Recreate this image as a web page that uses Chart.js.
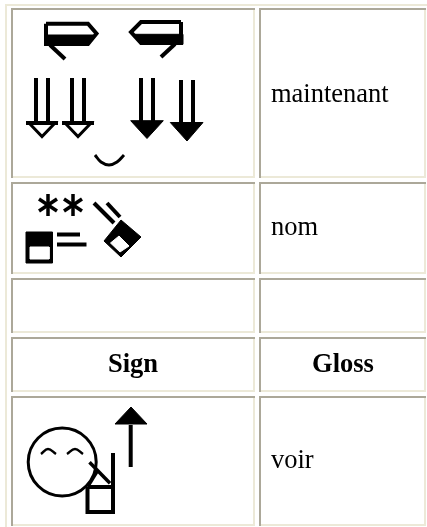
<!DOCTYPE html>
<html>
<head>
<meta charset="utf-8">
<title>Sign / Gloss</title>
<style>
  html, body { margin: 0; padding: 0; background: #fff; overflow: hidden; }
  canvas { display: block; }
</style>
<script src="https://cdn.jsdelivr.net/npm/chart.js@4"></script>
</head>
<body>
<canvas id="myChart" width="427" height="527"></canvas>
<script>
// table grid
const rowTops = [9, 183, 279, 338, 397];
const rowBottoms = [177, 273, 332, 391, 525];
const colLefts = [12, 260];
const colRights = [254, 425];
const frameTop = [[6, 5], [427, 5]];
const frameLeft = [[6, 4], [6, 527]];

// text
const labels = ['maintenant', 'nom', 'Sign', 'Gloss', 'voir'];
const labelX = [271, 271, 133, 343, 271];
const labelY = [102, 235, 372, 372, 468];
const labelBold = [false, false, true, true, false];

// row 1: flags
const flagLeft = [[46, 23.7], [88, 23.7], [96.5, 33.5], [88, 44], [46, 44], [46, 23.7]];
const flagLeftBlack = [[45, 35], [93, 35], [88, 45], [45, 45]];
const flagLeftTail = [[50, 45], [65, 59]];
const flagRight = [[181, 22], [141, 22], [131, 32], [141, 43], [181, 43], [181, 22]];
const flagRightBlack = [[183, 34.3], [135, 34.3], [141, 44.3], [183, 44.3]];
const flagRightTail = [[175, 44], [161, 57]];

// row 1: arrows
const arrowShafts = [
  [[36, 78], [36, 122]], [[48, 78], [48, 122]],
  [[72, 78], [72, 122]], [[84, 78], [84, 122]],
  [[141, 78], [141, 122]], [[153, 78], [153, 122]],
  [[181, 80], [181, 124]], [[193, 80], [193, 124]]
];
const hollowBars = [[[26, 123], [58, 123]], [[62, 123], [94, 123]]];
const hollowHeads = [
  [[29, 123], [55, 123], [42, 136.5], [29, 123]],
  [[65, 123], [91, 123], [78, 136.5], [65, 123]]
];
const solidHeads = [
  [[130.7, 120.7], [163.3, 120.7], [147, 138.5]],
  [[170.3, 122.5], [203, 122.5], [187, 141]]
];
const smile = [[95, 155], [101, 162], [109, 165], [117, 162], [124, 155]];

// row 2
const stars = [
  [[48, 194], [48, 216]], [[39, 199], [57, 211]], [[57, 199], [39, 211]],
  [[73, 194], [73, 216]], [[64, 199], [82, 211]], [[82, 199], [64, 211]]
];
const squareOuter = [[26, 232], [52.5, 232], [52.5, 263], [26, 263]];
const squareWindow = [[30, 247], [49, 247], [49, 259], [30, 259]];
const bars = [[[57, 234.5], [80, 234.5]], [[57, 244.5], [86.5, 244.5]]];
const slashes = [[[94, 203], [114, 223]], [[107, 203], [120, 217]]];
const diamondOuter = [[121, 220], [141, 237], [121, 257], [104, 241]];
const diamondWindow = [[119, 236], [129, 246], [120, 252], [110.5, 243]];

// row 5
const faceCenter = [[62.2, 462]];
const eyes = [[[41, 454], [48, 449], [56, 454]], [[67, 454], [75, 449], [83, 454]]];
const upShaft = [[130.7, 425], [130.7, 467]];
const upHead = [[115, 424], [147, 424], [131, 407]];
const handSquare = [[87.5, 487], [113, 487], [113, 512], [87.5, 512], [87.5, 487]];
const handWrist = [[113, 453], [113, 514]];
const handThumb = [[89.5, 462.3], [110, 483.3]];
const handThumbBack = [[89, 485], [97.7, 471]];

const GRID_DARK = '#aca899';
const GRID_LIGHT = '#ece9d8';
const datasets = [];

function stroke(points, width, color, extra) {
  datasets.push(Object.assign({
    data: points.map(p => ({ x: p[0], y: p[1] })),
    borderColor: color || '#000',
    borderWidth: width,
    pointRadius: 0,
    fill: false
  }, extra || {}));
}
function shape(points, color) {
  stroke(points.concat([points[0]]), 1, color, { fill: 'shape', backgroundColor: color });
}

// first dataset ends up on top, so whites go in before the blacks under them
stroke(faceCenter, 0, '#000', { pointRadius: 34, pointBorderWidth: 3, pointBorderColor: '#000', pointBackgroundColor: 'rgba(0,0,0,0)', showLine: false });

shape(squareWindow, '#fff');
shape(diamondWindow, '#fff');
shape(squareOuter, '#000');
shape(diamondOuter, '#000');
stars.forEach(s => stroke(s, 3.5));
bars.forEach(s => stroke(s, 4));
slashes.forEach(s => stroke(s, 4));

shape(flagLeftBlack, '#000');
shape(flagRightBlack, '#000');
stroke(flagLeft, 4);
stroke(flagRight, 4);
stroke(flagLeftTail, 4);
stroke(flagRightTail, 4);

arrowShafts.forEach(s => stroke(s, 4));
hollowBars.forEach(s => stroke(s, 4));
hollowHeads.forEach(s => stroke(s, 3));
solidHeads.forEach(s => shape(s, '#000'));
stroke(smile, 3, '#000', { tension: 0.4 });

eyes.forEach(s => stroke(s, 2.5, '#000', { tension: 0.4 }));
stroke(upShaft, 4);
shape(upHead, '#000');
stroke(handSquare, 4);
stroke(handWrist, 4);
stroke(handThumb, 3.5);
stroke(handThumbBack, 3);

// cell borders: dark top/left, light bottom/right
rowTops.forEach((top, r) => {
  colLefts.forEach((left, c) => {
    stroke([[left - 1, top], [colRights[c] + 1, top]], 2, GRID_DARK);
    stroke([[left, top - 1], [left, rowBottoms[r] + 1]], 2, GRID_DARK);
    stroke([[left - 1, rowBottoms[r]], [colRights[c] + 1, rowBottoms[r]]], 2, GRID_LIGHT);
    stroke([[colRights[c], top - 1], [colRights[c], rowBottoms[r] + 1]], 2, GRID_LIGHT);
  });
});
stroke(frameTop, 2, GRID_LIGHT);
stroke(frameLeft, 2, GRID_LIGHT);

const tableText = {
  id: 'tableText',
  afterDraw(chart) {
    const c = chart.ctx;
    c.save();
    c.fillStyle = '#000';
    c.textBaseline = 'alphabetic';
    labels.forEach((t, i) => {
      c.font = (labelBold[i] ? 'bold ' : '') + '26.5px "Liberation Serif"';
      c.textAlign = labelBold[i] ? 'center' : 'left';
      c.fillText(t, chart.scales.x.getPixelForValue(labelX[i]), chart.scales.y.getPixelForValue(labelY[i]));
    });
    c.restore();
  }
};

new Chart(document.getElementById('myChart'), {
  type: 'line',
  data: { datasets: datasets },
  options: {
    responsive: false,
    animation: false,
    events: [],
    layout: { padding: 0, autoPadding: false },
    plugins: { legend: { display: false }, title: { display: false }, tooltip: { enabled: false } },
    scales: {
      x: { type: 'linear', display: false, min: 0, max: 427 },
      y: { type: 'linear', display: false, min: 0, max: 527, reverse: true }
    }
  },
  plugins: [tableText]
});
</script>
</body>
</html>
